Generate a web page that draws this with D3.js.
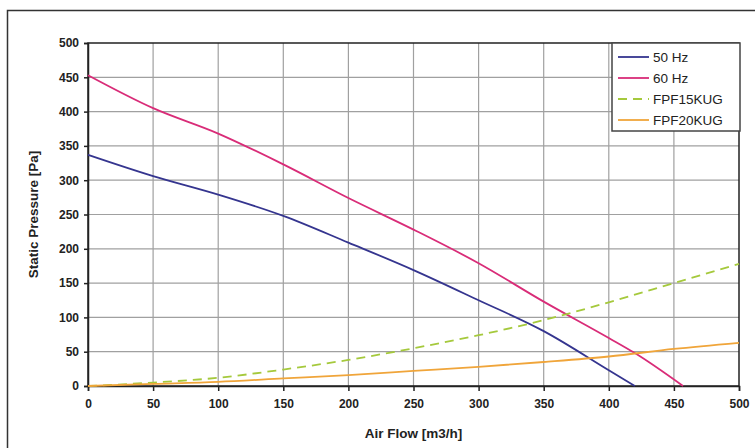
<!DOCTYPE html>
<html>
<head>
<meta charset="utf-8">
<script src="https://cdn.jsdelivr.net/npm/d3@7"></script>
<style>
  body { margin: 0; background: #fff; }
  text { font-family: Arial, "Liberation Sans", sans-serif; }
</style>
</head>
<body>
<main></main>
<script>
const width = 755;
const height = 448;
const margin = {left: 88, right: 16, top: 43, bottom: 62};

// values
const flow = [0, 50, 100, 150, 200, 250, 300, 350, 400, 450, 500];
const hz50X = [0, 50, 100, 150, 200, 250, 300, 350, 400, 420];
const hz50Y = [337, 306, 279, 248, 209, 169, 125, 80, 23, 0];
const hz60X = [0, 50, 100, 150, 200, 250, 300, 350, 400, 420, 457];
const hz60Y = [453, 405, 368, 323, 274, 228, 179, 123, 70, 48, 0];
const fpf15 = [0, 5, 12, 24, 38, 55, 74, 96, 122, 150, 178];
const fpf20 = [0, 3, 6, 11, 16, 22, 28, 35, 43, 54, 63];
const xTicks = [0, 50, 100, 150, 200, 250, 300, 350, 400, 450, 500];
const yTicks = [0, 50, 100, 150, 200, 250, 300, 350, 400, 450, 500];

const series = [
    {name: '50 Hz', color: '#35358f', dash: null, pts: hz50X.map((x, i) => [x, hz50Y[i]])},
    {name: '60 Hz', color: '#d92c78', dash: null, pts: hz60X.map((x, i) => [x, hz60Y[i]])},
    {name: 'FPF15KUG', color: '#a5c93c', dash: '9,6', pts: flow.map((x, i) => [x, fpf15[i]])},
    {name: 'FPF20KUG', color: '#f0a53a', dash: null, pts: flow.map((x, i) => [x, fpf20[i]])}
];

const svg = d3.select('main')
    .append('svg')
    .attr('width', width)
    .attr('height', height);

// outer frame
svg.append('path')
    .attr('d', `M7.5,${height} V10.5 H${width}`)
    .attr('fill', 'none')
    .attr('stroke', '#333')
    .attr('stroke-width', 1.5);

const xScale = d3.scaleLinear().domain([0, 500]).range([margin.left, width - margin.right]);
const yScale = d3.scaleLinear().domain([0, 500]).range([height - margin.bottom, margin.top]);

// grid
svg.append('g')
    .selectAll('line.vg')
    .data(xTicks.slice(1, -1))
    .enter()
    .append('line')
    .attr('x1', d => xScale(d)).attr('x2', d => xScale(d))
    .attr('y1', yScale(0)).attr('y2', yScale(500))
    .attr('stroke', '#a0a0a0')
    .attr('stroke-width', 1.2);

svg.append('g')
    .selectAll('line.hg')
    .data(yTicks.slice(1, -1))
    .enter()
    .append('line')
    .attr('x1', xScale(0)).attr('x2', xScale(500))
    .attr('y1', d => yScale(d)).attr('y2', d => yScale(d))
    .attr('stroke', '#a0a0a0')
    .attr('stroke-width', 1.2);

// plot frame
svg.append('rect')
    .attr('x', xScale(0))
    .attr('y', yScale(500))
    .attr('width', xScale(500) - xScale(0))
    .attr('height', yScale(0) - yScale(500))
    .attr('fill', 'none')
    .attr('stroke', '#222')
    .attr('stroke-width', 1.5);

// axes
const xAxis = svg.append('g')
    .attr('transform', 'translate(0,' + yScale(0) + ')')
    .call(d3.axisBottom(xScale).tickValues(xTicks).tickSize(5).tickPadding(8).tickFormat(d3.format('d')));

const yAxis = svg.append('g')
    .attr('transform', 'translate(' + xScale(0) + ',0)')
    .call(d3.axisLeft(yScale).tickValues(yTicks).tickSize(4).tickPadding(5).tickFormat(d3.format('d')));

[xAxis, yAxis].forEach(ax => {
    ax.select('.domain').attr('stroke', '#222').attr('stroke-width', 1.5);
    ax.selectAll('line').attr('stroke', '#222').attr('stroke-width', 1.5);
    ax.selectAll('text')
      .attr('fill', '#222')
      .style('font-size', '12px')
      .style('font-weight', 'bold')
      .style('font-family', 'Arial, "Liberation Sans", sans-serif');
});

// lines
const line = d3.line()
    .curve(d3.curveMonotoneX)
    .x(d => xScale(d[0]))
    .y(d => yScale(d[1]));

svg.append('g')
    .selectAll('path')
    .data(series)
    .enter()
    .append('path')
    .attr('d', d => line(d.pts))
    .attr('fill', 'none')
    .attr('stroke', d => d.color)
    .attr('stroke-width', 1.8)
    .attr('stroke-dasharray', d => d.dash);

// axis titles
svg.append('text')
    .attr('x', (xScale(0) + xScale(500)) / 2)
    .attr('y', 438)
    .attr('text-anchor', 'middle')
    .style('font-size', '13.5px')
    .style('font-weight', 'bold')
    .attr('fill', '#222')
    .text('Air Flow [m3/h]');

svg.append('text')
    .attr('transform', `translate(38,${(yScale(0) + yScale(500)) / 2}) rotate(-90)`)
    .attr('text-anchor', 'middle')
    .style('font-size', '13.5px')
    .style('font-weight', 'bold')
    .attr('fill', '#222')
    .text('Static Pressure [Pa]');

// legend
const legend = svg.append('g').attr('transform', 'translate(612,43)');
legend.append('rect')
    .attr('width', 128)
    .attr('height', 88)
    .attr('fill', '#fff')
    .attr('stroke', '#444')
    .attr('stroke-width', 1.5);

const items = legend.selectAll('g.item')
    .data(series)
    .enter()
    .append('g')
    .attr('transform', (d, i) => 'translate(0,' + (14 + i * 21) + ')');

items.append('line')
    .attr('x1', 6).attr('x2', 37)
    .attr('stroke', d => d.color)
    .attr('stroke-width', 1.8)
    .attr('stroke-dasharray', d => d.dash ? '9,6' : null);

items.append('text')
    .attr('x', 41)
    .attr('dy', '0.35em')
    .style('font-size', '13.5px')
    .attr('fill', '#222')
    .text(d => d.name);
</script>
</body>
</html>
